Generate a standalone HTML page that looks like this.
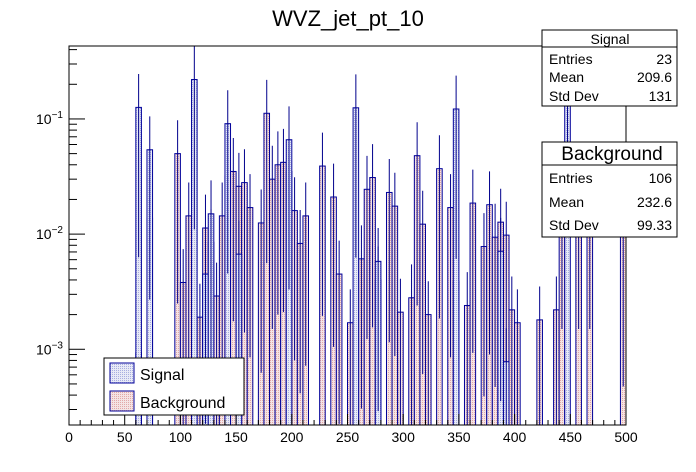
<!DOCTYPE html>
<html><head><meta charset="utf-8"><style>
body{margin:0;background:#fff;}
svg{display:block;font-family:"Liberation Sans",sans-serif;}
</style></head><body>
<svg id="c" width="696" height="472" viewBox="0 0 696 472">
<defs>
<pattern id="pinkHatch" width="2" height="2" patternUnits="userSpaceOnUse"><rect width="2" height="2" fill="#f4e4e4"/><rect width="1" height="1" fill="#e2a8a8"/></pattern>
<pattern id="blueHatch" width="2" height="2" patternUnits="userSpaceOnUse"><rect width="2" height="2" fill="#e8eaf6"/><rect width="1" height="1" fill="#a8aee0"/></pattern>
</defs>
<text x="348" y="26" font-size="22" text-anchor="middle">WVZ_jet_pt_10</text>
<g id="marks"></g>
<rect x="69" y="46" width="557" height="379" fill="none" stroke="#000" stroke-width="1"/>
<g id="axes"></g>
<g>
<rect x="104" y="358" width="140" height="57" fill="#fff" stroke="#000"/>
<rect x="110" y="363" width="24" height="20" fill="url(#blueHatch)" stroke="#000099"/>
<text x="140" y="380" font-size="16">Signal</text>
<rect x="110" y="391" width="24" height="20" fill="url(#pinkHatch)" stroke="#000099"/>
<text x="140" y="408" font-size="16">Background</text>
</g>
<g>
<rect x="542" y="30" width="135" height="76" fill="#fff" stroke="#000"/>
<line x1="542" y1="47" x2="677" y2="47" stroke="#000"/>
<text x="610" y="44" font-size="14" text-anchor="middle">Signal</text>
<text x="549" y="64" font-size="14">Entries</text><text x="672" y="64" font-size="14" text-anchor="end">23</text>
<text x="549" y="82" font-size="14">Mean</text><text x="672" y="82" font-size="14" text-anchor="end">209.6</text>
<text x="549" y="101" font-size="14">Std Dev</text><text x="672" y="101" font-size="14" text-anchor="end">131</text>
</g>
<g>
<rect x="542" y="142" width="135" height="95" fill="#fff" stroke="#000"/>
<line x1="542" y1="165" x2="677" y2="165" stroke="#000"/>
<text x="612" y="160" font-size="19" text-anchor="middle">Background</text>
<text x="549" y="183" font-size="14">Entries</text><text x="672" y="183" font-size="14" text-anchor="end">106</text>
<text x="549" y="207" font-size="14">Mean</text><text x="672" y="207" font-size="14" text-anchor="end">232.6</text>
<text x="549" y="230" font-size="14">Std Dev</text><text x="672" y="230" font-size="14" text-anchor="end">99.33</text>
</g>
</svg>
<script>
const bgBins=[60,70,95,100,105,115,120,125,130,135,140,145,150,155,160,170,175,180,185,190,195,200,205,210,225,235,240,250,260,265,270,275,285,290,295,305,310,315,320,330,340,345,355,360,370,375,380,385,390,395,400,420,435,440,455,465,495];
const bgVals=[0.00093,0.0138,0.05,0.0038,0.0144,0.0019,0.0113,0.0085,0.0029,0.0144,0.032,0.035,0.026,0.028,0.017,0.0125,0.112,0.030,0.040,0.042,0.035,0.016,0.0083,0.0144,0.039,0.021,0.0045,0.0017,0.0061,0.0245,0.031,0.004,0.023,0.0175,0.0021,0.0028,0.048,0.0122,0.0020,0.037,0.017,0.0039,0.0024,0.0186,0.0078,0.018,0.0094,0.0127,0.0098,0.0022,0.0017,0.0018,0.0022,0.03,0.03,0.03,0.0095];
const sigBins=[60,70,110,120,125,140,150,195,255,275,345,385,390,445];
const sigVals=[0.126,0.054,0.22,0.0045,0.015,0.091,0.0067,0.066,0.125,0.0058,0.122,0.0071,0.00078,0.2];
const xTicks=[0,50,100,150,200,250,300,350,400,450,500];
const yDecades=[-1,-2,-3];
const binW=5, errFrac=0.95;
const X0=69,X1=626,Y0=46,Y1=425;
const yTop=Math.log10(0.43), yBot=Math.log10(2.2e-4);
function sx(v){return X0+(v/500)*(X1-X0);}
function sy(v){const l=Math.log10(Math.max(v,1e-9));const y=Y0+(yTop-l)/(yTop-yBot)*(Y1-Y0);return Math.min(Math.max(y,Y0),Y1);}
const NS="http://www.w3.org/2000/svg";
const marks=document.getElementById('marks'),axes=document.getElementById('axes');
function mk(t,a,p){const e=document.createElementNS(NS,t);for(const k in a)e.setAttribute(k,a[k]);p.appendChild(e);return e;}
function drawSeries(bins,vals,fill,nm){
 bins.forEach((b,i)=>{
  const v=vals[i];const x=sx(b),w=sx(b+binW)-x,y=sy(v);
  const r=mk('rect',{x:x,y:y,width:w,height:Y1-y,fill:fill,stroke:'#000099','stroke-width':1},marks);
  
  
  const cx=x+w/2;
  const l=mk('line',{x1:cx,x2:cx,y1:sy(v*(1+errFrac)),y2:sy(v*(1-errFrac)),stroke:'#00008c','stroke-width':1},marks);
  
  
 });
}
drawSeries(bgBins,bgVals,'url(#pinkHatch)','background');
drawSeries(sigBins,sigVals,'url(#blueHatch)','signal');
for(let v=0;v<=500;v+=10){const major=v%50===0;mk('line',{x1:sx(v),x2:sx(v),y1:Y1,y2:Y1-(major?11:5),stroke:'#000'},axes);}
xTicks.forEach(t=>{const e=mk('text',{x:sx(t),y:442,'font-size':14,'text-anchor':'middle'},axes);e.textContent=t;
 
 });
for(let d=-4;d<=0;d++){for(let m=1;m<=9;m++){const v=m*Math.pow(10,d);const l=Math.log10(v);if(l>yTop||l<yBot)continue;
 mk('line',{x1:X0,x2:X0+(m===1?16:8),y1:sy(v),y2:sy(v),stroke:'#000'},axes);}}
yDecades.forEach(d=>{const e=mk('text',{x:36,y:sy(Math.pow(10,d))+5,'font-size':14},axes);
 
 
 e.innerHTML='10<tspan dy="-6" font-size="10">'+(d===-1?'\u22121':d===-2?'\u22122':'\u22123')+'</tspan>';});
</script>
</body></html>
